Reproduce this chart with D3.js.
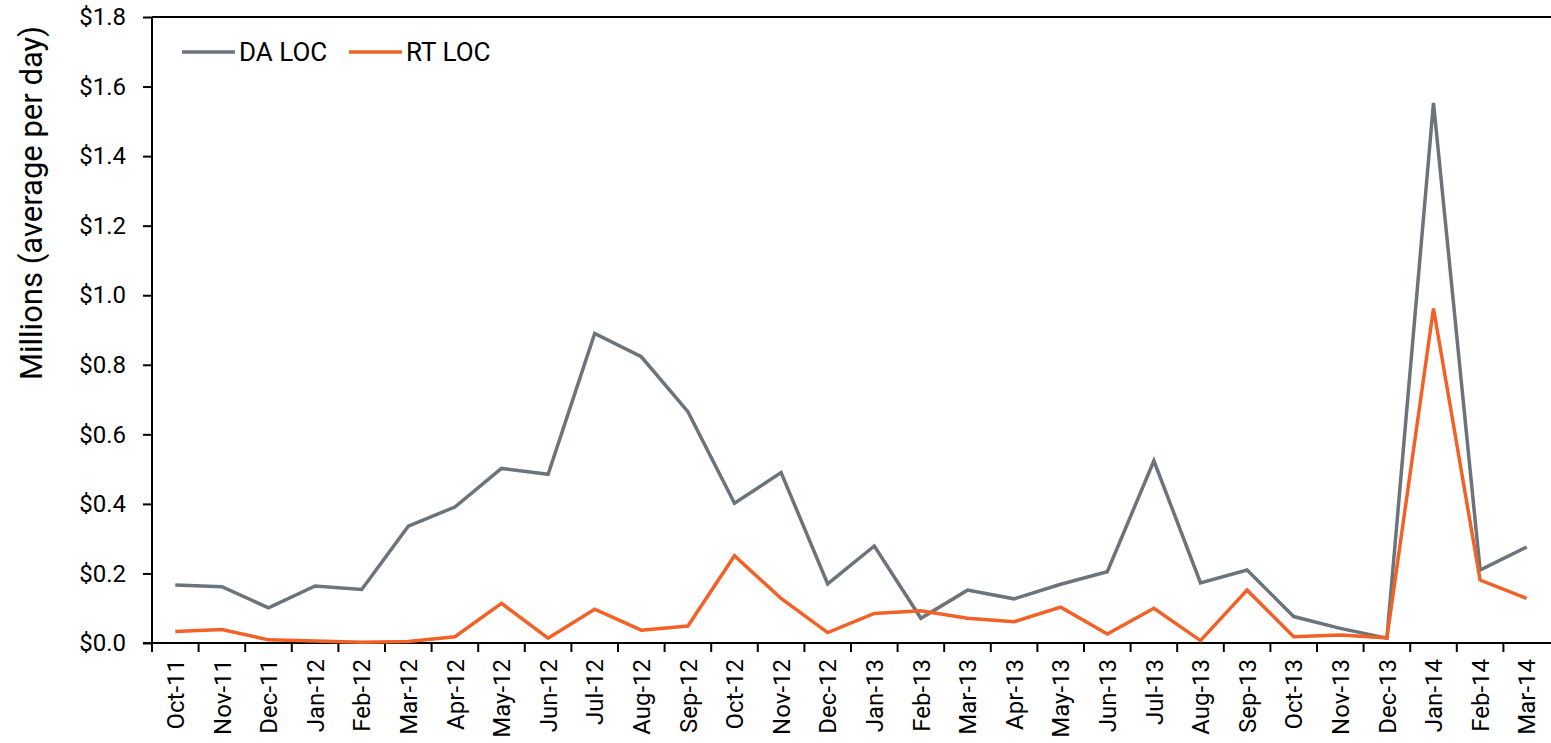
<!DOCTYPE html>
<html>
<head>
<meta charset="utf-8">
<script src="https://cdn.jsdelivr.net/npm/d3@7"></script>
<style>
  body { margin: 0; background: #fff; }
  text { font-family: Roboto, "Liberation Sans", Arial, sans-serif; fill: #000; }
</style>
</head>
<body>
<div id="chart"></div>
<script>
var months = ["Oct-11", "Nov-11", "Dec-11", "Jan-12", "Feb-12", "Mar-12", "Apr-12", "May-12", "Jun-12",
  "Jul-12", "Aug-12", "Sep-12", "Oct-12", "Nov-12", "Dec-12", "Jan-13", "Feb-13", "Mar-13", "Apr-13",
  "May-13", "Jun-13", "Jul-13", "Aug-13", "Sep-13", "Oct-13", "Nov-13", "Dec-13", "Jan-14", "Feb-14", "Mar-14"]

var daLoc = [0.167, 0.162, 0.101, 0.164, 0.154, 0.336, 0.391, 0.502, 0.485,
  0.890, 0.823, 0.665, 0.402, 0.490, 0.170, 0.279, 0.071, 0.152, 0.127,
  0.169, 0.205, 0.524, 0.173, 0.210, 0.076, 0.042, 0.014, 1.553, 0.210, 0.276]

var rtLoc = [0.033, 0.039, 0.009, 0.006, 0.002, 0.004, 0.018, 0.114, 0.014,
  0.097, 0.037, 0.049, 0.251, 0.128, 0.030, 0.085, 0.093, 0.071, 0.061,
  0.103, 0.026, 0.100, 0.007, 0.152, 0.018, 0.023, 0.015, 0.962, 0.181, 0.128]

var yTicks = [0, 0.2, 0.4, 0.6, 0.8, 1.0, 1.2, 1.4, 1.6, 1.8]

var seriesNames = ["DA LOC", "RT LOC"]
var seriesColors = ["#6b737b", "#f26125"]

var width = 1551, height = 743
var margin = { top: 17, right: 1, bottom: 100, left: 152 }

var svg = d3.select("#chart").append("svg")
  .attr("width", width)
  .attr("height", height)

var x = d3.scaleBand()
  .domain(months)
  .range([margin.left, width - margin.right])

var y = d3.scaleLinear()
  .domain([0, 1.8])
  .range([height - margin.bottom, margin.top])

//top frame line
svg.append("line")
  .attr("x1", margin.left)
  .attr("x2", width)
  .attr("y1", y(1.8))
  .attr("y2", y(1.8))
  .attr("stroke", "#000")
  .attr("stroke-width", 2)

//y axis
var yAxis = svg.append("g")
  .attr("transform", "translate(" + margin.left + ",0)")
  .call(d3.axisLeft(y)
    .tickValues(yTicks)
    .tickSize(9)
    .tickPadding(17)
    .tickFormat(function (d) { return "$" + d.toFixed(1); }))
yAxis.selectAll("path, line").attr("stroke", "#000").attr("stroke-width", 2)
yAxis.select(".domain").attr("d", "M0," + y(1.8) + "V" + (y(0) + 9))
yAxis.selectAll("text")
  .attr("font-size", 24)
  .attr("font-family", "Roboto, 'Liberation Sans', Arial, sans-serif")
  .attr("fill", "#000")

//x axis, ticks between months
var xAxis = svg.append("g")
  .attr("transform", "translate(0," + y(0) + ")")
  .call(d3.axisBottom(x).tickSize(0).tickPadding(0))
xAxis.select(".domain").attr("stroke", "#000").attr("stroke-width", 2)
  .attr("d", "M" + (margin.left - 9) + ",0H" + width)
xAxis.selectAll(".tick line").remove()
xAxis.selectAll(".sep")
  .data(months)
  .join("line")
  .attr("class", "sep")
  .attr("x1", function (d) { return x(d); })
  .attr("x2", function (d) { return x(d); })
  .attr("y1", 0)
  .attr("y2", 9)
  .attr("stroke", "#000")
  .attr("stroke-width", 2)
xAxis.selectAll(".tick text")
  .attr("font-size", 24)
  .attr("font-family", "Roboto, 'Liberation Sans', Arial, sans-serif")
  .attr("fill", "#000")
  .attr("text-anchor", "end")
  .attr("transform", "rotate(-90)")
  .attr("x", -16)
  .attr("y", 0)
  .attr("dy", "0.36em")

//y title
svg.append("text")
  .attr("transform", "translate(42,203) rotate(-90)")
  .attr("text-anchor", "middle")
  .attr("font-size", 31)
  .text("Millions (average per day)")

//lines
var line = d3.line()
  .x(function (d, i) { return x(months[i]) + x.bandwidth() / 2; })
  .y(function (d) { return y(d); })

var allSeries = [daLoc, rtLoc]
svg.append("g")
  .selectAll("path")
  .data(allSeries)
  .join("path")
  .attr("d", line)
  .attr("fill", "none")
  .attr("stroke", function (d, i) { return seriesColors[i]; })
  .attr("stroke-width", 3.5)
  .attr("stroke-linejoin", "miter")

//legend
var legendX = [182, 349]
var lgrp = svg.append("g")
seriesNames.forEach(function (name, i) {
  lgrp.append("line")
    .attr("x1", legendX[i])
    .attr("x2", legendX[i] + 53)
    .attr("y1", 52)
    .attr("y2", 52)
    .attr("stroke", seriesColors[i])
    .attr("stroke-width", 3.5)
  lgrp.append("text")
    .attr("x", legendX[i] + 57)
    .attr("y", 52)
    .attr("dy", "0.35em")
    .attr("font-size", 26)
    .text(name)
})
</script>
</body>
</html>
